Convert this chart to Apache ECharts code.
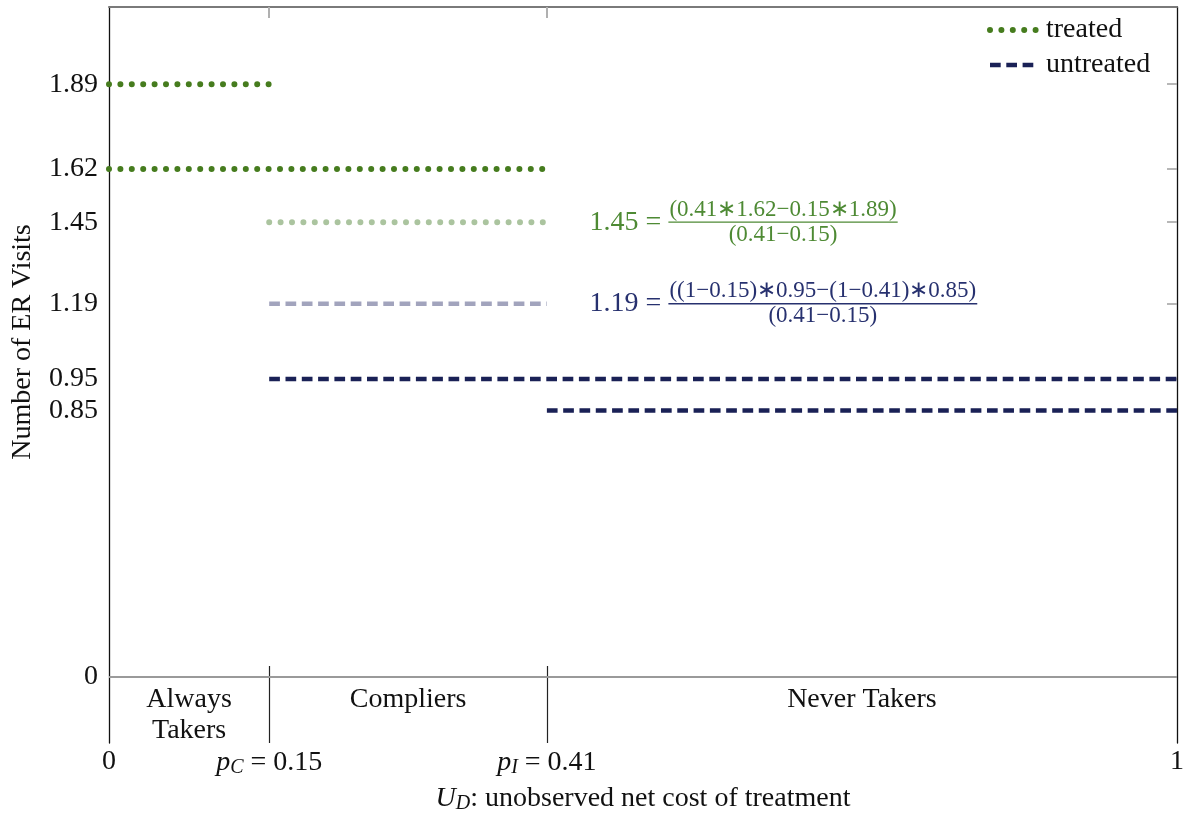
<!DOCTYPE html>
<html>
<head>
<meta charset="utf-8">
<script src="https://cdn.jsdelivr.net/npm/echarts@6/dist/echarts.min.js"></script>
<style>
html,body{margin:0;padding:0;background:#fff;}
#c{width:1184px;height:814px;}
</style>
</head>
<body>
<div id="c"></div>
<script>
// ---- data ----
const cutoffs = [0, 0.15, 0.41, 1];
const groupLabels = ['Always\nTakers', 'Compliers', 'Never Takers'];
const yTicks = [0, 0.85, 0.95, 1.19, 1.45, 1.62, 1.89];
const xTickValues = [0, 0.15, 0.41, 1];
const xTickLabels = ['0', '{it|p}{sub|C}{n| = 0.15}', '{it|p}{sub|I}{n| = 0.41}', '1'];
const treatedAlwaysTakers = [[0, 1.89], [0.15, 1.89]];
const treatedAlwaysCompliers = [[0, 1.62], [0.41, 1.62]];
const treatedCompliers = [[0.15, 1.45], [0.41, 1.45]];
const untreatedCompliersNever = [[0.15, 0.95], [1, 0.95]];
const untreatedNeverTakers = [[0.41, 0.85], [1, 0.85]];
const untreatedCompliers = [[0.15, 1.19], [0.41, 1.19]];
const treatedFormula = ['1.45 =', '(0.41∗1.62−0.15∗1.89)', '(0.41−0.15)'];
const untreatedFormula = ['1.19 =', '((1−0.15)∗0.95−(1−0.41)∗0.85)', '(0.41−0.15)'];
const formulaAnchorX = 0.45;

// ---- styles ----
const FONT = '"Liberation Serif", "Times New Roman", serif';
const FS = 28;
const GREEN = '#467c1e';
const GREEN_LIGHT = '#abc49f';
const NAVY = '#1a2156';
const NAVY_LIGHT = '#a2a4bd';
const GREEN_TEXT = '#4e8a34';
const NAVY_TEXT = '#27316f';
const dotted = [0, 11.4];
const dashed = [10.7, 5.6];

const richBase = {
  it: { fontFamily: FONT, fontSize: FS, fontStyle: 'italic', color: '#111', lineHeight: 30 },
  sub: { fontFamily: FONT, fontSize: 20, fontStyle: 'italic', color: '#111', lineHeight: 20, verticalAlign: 'bottom' },
  n: { fontFamily: FONT, fontSize: FS, color: '#111', lineHeight: 30 }
};

const mids = [];
for (let i = 0; i < groupLabels.length; i++) mids.push([(cutoffs[i] + cutoffs[i + 1]) / 2, 0]);

function seg(name, data, color, width, type, cap) {
  return {
    type: 'line', name: name, data: data, symbol: 'none', clip: false, silent: true,
    xAxisIndex: 0, yAxisIndex: 0,
    itemStyle: { color: color },
    lineStyle: { color: color, width: width, type: type, cap: cap }, z: 5
  };
}

const chart = echarts.init(document.getElementById('c'), null, { renderer: 'canvas' });

const option = {
  animation: false,
  backgroundColor: '#fff',
  textStyle: { fontFamily: FONT },
  grid: [
    { left: 109, right: 7, top: 7, bottom: 71, outerBoundsMode: 'none', containLabel: false },
    { left: 109, right: 7, top: 7, bottom: 137, outerBoundsMode: 'none', containLabel: false }
  ],
  legend: {
    orient: 'vertical', left: 987, top: 15, padding: 0,
    itemWidth: 46, itemHeight: 14, itemGap: 5,
    textStyle: { fontFamily: FONT, fontSize: FS, color: '#111', lineHeight: 30, padding: [0, 0, 0, 5] },
    data: [
      { name: 'treated', itemStyle: { opacity: 0 }, lineStyle: { width: 6, type: dotted, cap: 'round', color: GREEN } },
      { name: 'untreated', itemStyle: { opacity: 0 }, lineStyle: { width: 4.5, type: dashed, cap: 'butt', color: NAVY } }
    ],
    selectedMode: false
  },
  xAxis: [
    {
      type: 'value', gridIndex: 0, min: 0, max: 1, position: 'bottom',
      axisLine: { show: false, onZero: false },
      splitLine: { show: false },
      axisTick: { show: true, inside: true, length: 77, customValues: [cutoffs[1], cutoffs[2]], lineStyle: { color: '#222', width: 1.2 } },
      axisLabel: {
        show: true, margin: 5, customValues: xTickValues,
        formatter: function (v) { const i = xTickValues.indexOf(v); return i >= 0 ? xTickLabels[i] : ''; },
        rich: richBase, fontFamily: FONT, fontSize: FS, color: '#111'
      },
      name: '{it|U}{sub|D}{n|: unobserved net cost of treatment}',
      nameLocation: 'middle', nameGap: 41,
      nameTextStyle: { rich: richBase, fontFamily: FONT, fontSize: FS, color: '#111' }
    },
    {
      type: 'value', gridIndex: 0, min: 0, max: 1, position: 'top',
      axisLine: { show: true, onZero: false, lineStyle: { color: '#7a7a7a', width: 2 } },
      splitLine: { show: false },
      axisTick: { show: true, inside: true, length: 11, customValues: [cutoffs[1], cutoffs[2]], lineStyle: { color: '#b0b0b0', width: 2 } },
      axisLabel: { show: false }
    },
    {
      type: 'value', gridIndex: 1, min: 0, max: 1, show: false
    }
  ],
  yAxis: [
    {
      type: 'value', gridIndex: 0, min: -0.21, max: 2.136, position: 'left',
      axisLine: { show: true, onZero: false, lineStyle: { color: '#111', width: 1.3 } },
      axisTick: { show: false },
      splitLine: { show: false },
      axisLabel: { show: true, customValues: yTicks, margin: 11, fontFamily: FONT, fontSize: FS, color: '#111' }
    },
    {
      type: 'value', gridIndex: 0, min: -0.21, max: 2.136, position: 'right',
      axisLine: { show: true, onZero: false, lineStyle: { color: '#111', width: 1.3 } },
      axisTick: { show: true, inside: true, length: 10, customValues: yTicks.slice(1), lineStyle: { color: '#a0a0a0', width: 1.5 } },
      splitLine: { show: false },
      axisLabel: { show: false }
    },
    {
      type: 'value', gridIndex: 1, min: 0, max: 1,
      axisLine: { show: false }, axisTick: { show: false }, axisLabel: { show: false }, splitLine: { show: false },
      name: 'Number of ER Visits', nameLocation: 'middle', nameGap: 72,
      nameTextStyle: { fontFamily: FONT, fontSize: FS, color: '#111' }
    }
  ],
  series: [
    Object.assign(seg('treated', treatedAlwaysTakers, GREEN, 6, dotted, 'round'), {
      markLine: {
        silent: true, symbol: 'none', label: { show: false },
        lineStyle: { color: '#9a9a9a', width: 2, type: 'solid' },
        data: [{ yAxis: 0 }], z: 1
      }
    }),
    seg('treated', treatedAlwaysCompliers, GREEN, 6, dotted, 'round'),
    seg('treated compliers', treatedCompliers, GREEN_LIGHT, 6, dotted, 'round'),
    seg('untreated', untreatedCompliersNever, NAVY, 4.5, dashed, 'butt'),
    seg('untreated', untreatedNeverTakers, NAVY, 4.5, dashed, 'butt'),
    seg('untreated compliers', untreatedCompliers, NAVY_LIGHT, 4.5, dashed, 'butt'),
    {
      type: 'scatter', name: 'groups', data: mids, symbolSize: 1, silent: true,
      xAxisIndex: 0, yAxisIndex: 0, clip: false,
      itemStyle: { color: 'rgba(0,0,0,0)', opacity: 1 },
      labelLayout: { hideOverlap: false },
      label: {
        show: true, position: 'bottom', distance: 7,
        formatter: function (p) { return groupLabels[p.dataIndex]; },
        fontFamily: FONT, fontSize: FS, lineHeight: 31, color: '#111', opacity: 1, align: 'center'
      }
    }
  ]
};
chart.setOption(option);

// ---- formula annotations (fractions) ----
const ctx = document.createElement('canvas').getContext('2d');
function measure(text, size) { ctx.font = size + 'px ' + FONT; return ctx.measureText(text).width; }
function fraction(parts, color, xVal, yVal) {
  const p = chart.convertToPixel({ gridIndex: 0 }, [xVal, yVal]);
  const px = p[0], py = p[1];
  const lw = measure(parts[0], FS);
  const nw = measure(parts[1], 23), dw = measure(parts[2], 23);
  const barX = px + lw + 7;
  const barW = Math.max(nw, dw) + 2;
  return [
    { type: 'text', x: px, y: py, style: { text: parts[0], font: FS + 'px ' + FONT, fill: color, align: 'left', verticalAlign: 'middle' }, silent: true },
    { type: 'rect', shape: { x: barX, y: py - 0.7, width: barW, height: 1.3 }, style: { fill: color }, silent: true },
    { type: 'text', x: barX + barW / 2, y: py - 1, style: { text: parts[1], font: '23px ' + FONT, fill: color, align: 'center', verticalAlign: 'bottom' }, silent: true },
    { type: 'text', x: barX + barW / 2, y: py + 1, style: { text: parts[2], font: '23px ' + FONT, fill: color, align: 'center', verticalAlign: 'top' }, silent: true }
  ];
}
chart.setOption({
  graphic: fraction(treatedFormula, GREEN_TEXT, formulaAnchorX, treatedCompliers[0][1])
    .concat(fraction(untreatedFormula, NAVY_TEXT, formulaAnchorX, untreatedCompliers[0][1]))
});
</script>
</body>
</html>
